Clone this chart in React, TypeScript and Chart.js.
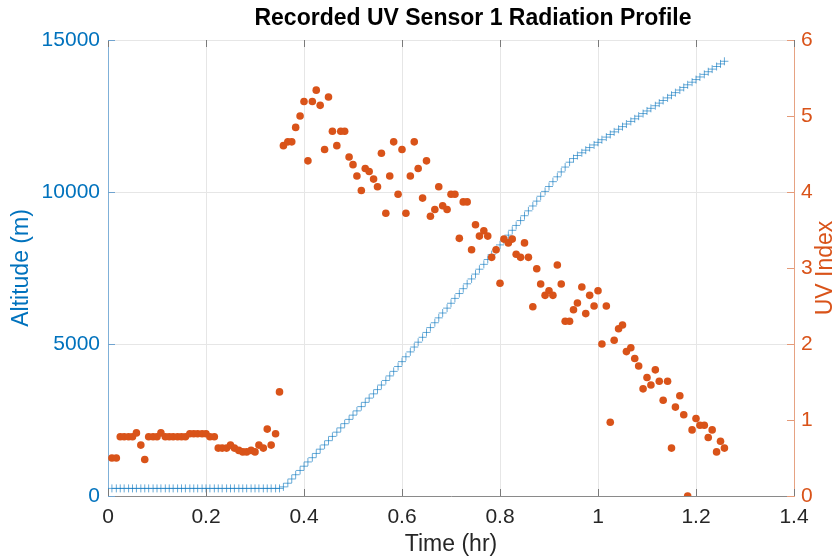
import React, { useEffect, useRef } from "react";
import { Chart, registerables } from "chart.js";

Chart.register(...registerables);

const CHART_TITLE = "Recorded UV Sensor 1 Radiation Profile";
const X_TITLE = "Time (hr)";
const LEFT_TITLE = "Altitude (m)";
const RIGHT_TITLE = "UV Index";

const timeHr = [
  0.008, 0.017, 0.025, 0.033, 0.042, 0.05, 0.058, 0.067, 0.075, 0.083, 0.092, 0.1,
  0.108, 0.117, 0.125, 0.133, 0.142, 0.15, 0.158, 0.167, 0.175, 0.183, 0.192, 0.2,
  0.208, 0.217, 0.225, 0.233, 0.242, 0.25, 0.258, 0.267, 0.275, 0.283, 0.292, 0.3,
  0.308, 0.317, 0.325, 0.333, 0.342, 0.35, 0.358, 0.367, 0.375, 0.383, 0.392, 0.4,
  0.408, 0.417, 0.425, 0.433, 0.442, 0.45, 0.458, 0.467, 0.475, 0.483, 0.492, 0.5,
  0.508, 0.517, 0.525, 0.533, 0.542, 0.55, 0.558, 0.567, 0.575, 0.583, 0.592, 0.6,
  0.608, 0.617, 0.625, 0.633, 0.642, 0.65, 0.658, 0.667, 0.675, 0.683, 0.692, 0.7,
  0.708, 0.717, 0.725, 0.733, 0.742, 0.75, 0.758, 0.767, 0.775, 0.783, 0.792, 0.8,
  0.808, 0.817, 0.825, 0.833, 0.842, 0.85, 0.858, 0.867, 0.875, 0.883, 0.892, 0.9,
  0.908, 0.917, 0.925, 0.933, 0.942, 0.95, 0.958, 0.967, 0.975, 0.983, 0.992, 1.0,
  1.008, 1.017, 1.025, 1.033, 1.042, 1.05, 1.058, 1.067, 1.075, 1.083, 1.092, 1.1,
  1.108, 1.117, 1.125, 1.133, 1.142, 1.15, 1.158, 1.167, 1.175, 1.183, 1.192, 1.2,
  1.208, 1.217, 1.225, 1.233, 1.242, 1.25, 1.258,
];

const altitudeM = [
  250, 250, 250, 250, 250, 250, 250, 250, 250, 250, 250, 250,
  250, 250, 250, 250, 250, 250, 250, 250, 250, 250, 250, 250,
  250, 250, 250, 250, 250, 250, 250, 250, 250, 250, 250, 250,
  250, 250, 250, 250, 250, 250, 300, 420, 560, 700, 840, 980,
  1120, 1260, 1400, 1540, 1680, 1820, 1960, 2100, 2240, 2380, 2520, 2660,
  2800, 2940, 3080, 3220, 3360, 3500, 3650, 3800, 3950, 4100, 4260, 4420,
  4580, 4740, 4900, 5060, 5220, 5380, 5540, 5700, 5860, 6020, 6180, 6340,
  6500, 6660, 6820, 6980, 7140, 7300, 7460, 7620, 7780, 7940, 8100, 8260,
  8420, 8580, 8740, 8900, 9060, 9220, 9380, 9540, 9700, 9860, 10020, 10180,
  10340, 10500, 10660, 10820, 10980, 11100, 11200, 11290, 11376, 11462, 11548, 11634,
  11720, 11806, 11892, 11978, 12064, 12150, 12236, 12322, 12408, 12494, 12580, 12666,
  12752, 12838, 12924, 13010, 13096, 13182, 13268, 13354, 13440, 13526, 13612, 13698,
  13784, 13870, 13956, 14042, 14128, 14214, 14300,
];

const uvIndex = [
  0.5, 0.5, 0.78, 0.78, 0.78, 0.78, 0.83, 0.67, 0.48, 0.78, 0.78, 0.78,
  0.83, 0.78, 0.78, 0.78, 0.78, 0.78, 0.78, 0.82, 0.82, 0.82, 0.82, 0.82,
  0.78, 0.78, 0.63, 0.63, 0.63, 0.67, 0.63, 0.6, 0.58, 0.58, 0.6, 0.58,
  0.67, 0.63, 0.88, 0.67, 0.82, 1.37, 4.61, 4.66, 4.66, 4.85, 5.0, 5.19,
  4.41, 5.19, 5.34, 5.14, 4.56, 5.25, 4.8, 4.61, 4.8, 4.8, 4.46, 4.36,
  4.21, 4.02, 4.31, 4.27, 4.17, 4.07, 4.51, 3.72, 4.21, 4.66, 3.97, 4.56,
  3.72, 4.21, 4.66, 4.31, 3.92, 4.41, 3.68, 3.77, 4.07, 3.82, 3.77, 3.97,
  3.97, 3.39, 3.87, 3.87, 3.24, 3.57, 3.42, 3.49, 3.42, 3.14, 3.24, 2.8,
  3.38, 3.33, 3.38, 3.18, 3.14, 3.33, 3.14, 2.49, 2.99, 2.79, 2.64, 2.7,
  2.64, 3.04, 2.79, 2.3, 2.3, 2.45, 2.54, 2.75, 2.4, 2.64, 2.5, 2.7,
  2.0, 2.5, 0.97, 2.05, 2.2, 2.25, 1.9, 1.95, 1.81, 1.71, 1.41, 1.56,
  1.46, 1.66, 1.51, 1.26, 1.51, 0.63, 1.17, 1.32, 1.07, 0, 0.87, 1.02,
  0.93, 0.93, 0.77, 0.87, 0.58, 0.72, 0.63,
];

const xTicks = [0, 0.2, 0.4, 0.6, 0.8, 1, 1.2, 1.4];
const altitudeTicks = [0, 5000, 10000, 15000];
const uvTicks = [0, 1, 2, 3, 4, 5, 6];

const BLUE = "#0072BD";
const ORANGE = "#D95319";
const DARK = "#262626";
const FONT = "'Liberation Sans', Arial, Helvetica, sans-serif";

const decorPlugin = {
  id: "decor",
  afterDraw(chart: any) {
    const { ctx, chartArea: a, scales } = chart;
    const x = scales.x;
    const yL = scales.yAlt;
    const yR = scales.yUV;
    const TL = 7;
    ctx.save();
    ctx.lineWidth = 1;
    // inward x ticks (bottom and top)
    ctx.strokeStyle = "#7a7a7a";
    xTicks.forEach((v) => {
      const px = Math.round(x.getPixelForValue(v)) + 0.5;
      ctx.beginPath();
      ctx.moveTo(px, a.bottom);
      ctx.lineTo(px, a.bottom - TL);
      ctx.moveTo(px, a.top);
      ctx.lineTo(px, a.top + TL);
      ctx.stroke();
    });
    // left ticks
    ctx.strokeStyle = "#6fa3cf";
    altitudeTicks.forEach((v) => {
      const py = Math.round(yL.getPixelForValue(v)) + 0.5;
      ctx.beginPath();
      ctx.moveTo(a.left, py);
      ctx.lineTo(a.left + TL, py);
      ctx.stroke();
    });
    // right ticks
    ctx.strokeStyle = "#e49a78";
    uvTicks.forEach((v) => {
      const py = Math.round(yR.getPixelForValue(v)) + 0.5;
      ctx.beginPath();
      ctx.moveTo(a.right, py);
      ctx.lineTo(a.right - TL, py);
      ctx.stroke();
    });
    // chart title
    ctx.textAlign = "center";
    ctx.textBaseline = "middle";
    ctx.fillStyle = "#000000";
    ctx.font = `bold 23px ${FONT}`;
    ctx.fillText(CHART_TITLE, 473, 19);
    // right axis title, reading bottom-to-top
    ctx.translate(826, (a.top + a.bottom) / 2);
    ctx.rotate(-Math.PI / 2);
    ctx.fillStyle = ORANGE;
    ctx.font = `23px ${FONT}`;
    ctx.fillText(RIGHT_TITLE, 0, 0);
    ctx.restore();
  },
};

export default function App() {
  const canvasRef = useRef<HTMLCanvasElement | null>(null);

  useEffect(() => {
    document.body.style.margin = "0";
    const canvas = canvasRef.current;
    if (!canvas) return;

    const altitudePoints = timeHr.map((t, i) => ({ x: t, y: altitudeM[i] }));
    const uvPoints = timeHr.map((t, i) => ({ x: t, y: uvIndex[i] }));

    const chart = new Chart(canvas, {
      type: "scatter",
      data: {
        datasets: [
          {
            label: "UV Index",
            data: uvPoints,
            yAxisID: "yUV",
            pointStyle: "circle",
            pointRadius: 3.8,
            pointBackgroundColor: ORANGE,
            pointBorderColor: ORANGE,
            pointBorderWidth: 0,
            showLine: false,
            order: 1,
          },
          {
            label: "Altitude",
            data: altitudePoints,
            yAxisID: "yAlt",
            pointStyle: "cross",
            pointRadius: 4,
            pointBorderColor: "rgba(0,114,189,0.6)",
            pointBorderWidth: 1,
            showLine: false,
            order: 2,
          },
        ],
      },
      options: {
        responsive: false,
        animation: false,
        events: [],
        layout: { padding: { top: 40, left: 0, right: 0, bottom: 0 } },
        plugins: {
          legend: { display: false },
          tooltip: { enabled: false },
          title: { display: false },
        },
        scales: {
          x: {
            type: "linear",
            position: "bottom",
            min: 0,
            max: 1.4,
            afterBuildTicks: (s: any) => {
              s.ticks = xTicks.map((v) => ({ value: v }));
            },
            afterFit: (s: any) => {
              s.height = 62;
            },
            ticks: {
              color: DARK,
              font: { family: FONT, size: 21 },
              padding: 9,
              maxRotation: 0,
              callback: (v: any) => String(v),
            },
            grid: { color: "#e6e6e6", lineWidth: 1, drawTicks: false },
            border: { display: true, color: "#8a8a8a", width: 1 },
            title: {
              display: true,
              text: X_TITLE,
              color: DARK,
              font: { family: FONT, size: 23 },
              padding: { top: 0, bottom: 0 },
            },
          },
          yAlt: {
            type: "linear",
            position: "left",
            min: 0,
            max: 15000,
            afterBuildTicks: (s: any) => {
              s.ticks = altitudeTicks.map((v) => ({ value: v }));
            },
            afterFit: (s: any) => {
              s.width = 108;
            },
            ticks: {
              color: BLUE,
              font: { family: FONT, size: 21 },
              padding: 8,
              callback: (v: any) => String(v),
            },
            grid: { color: "#e6e6e6", lineWidth: 1, drawTicks: false },
            border: { display: true, color: "#7fb0d8", width: 1 },
            title: {
              display: true,
              text: LEFT_TITLE,
              color: BLUE,
              font: { family: FONT, size: 23 },
              padding: { top: 8, bottom: 0 },
            },
          },
          yUV: {
            type: "linear",
            position: "right",
            min: 0,
            max: 6,
            afterBuildTicks: (s: any) => {
              s.ticks = uvTicks.map((v) => ({ value: v }));
            },
            afterFit: (s: any) => {
              s.width = 45;
            },
            ticks: {
              color: ORANGE,
              font: { family: FONT, size: 21 },
              padding: 7,
              callback: (v: any) => String(v),
            },
            grid: { display: false, drawTicks: false },
            border: { display: true, color: "#e6a282", width: 1 },
          },
        },
      },
      plugins: [decorPlugin],
    });

    return () => chart.destroy();
  }, []);

  return (
    <div style={{ width: 839, height: 558, background: "#ffffff" }}>
      <canvas ref={canvasRef} width={839} height={558} style={{ display: "block" }} />
    </div>
  );
}
